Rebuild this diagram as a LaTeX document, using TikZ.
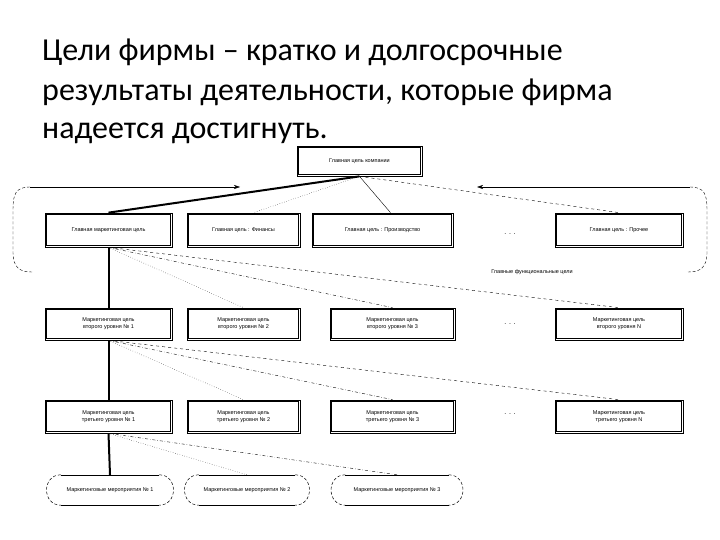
\documentclass[tikz,border=0pt]{standalone}
\usepackage{fontspec}
\setmainfont{Carlito}
\newfontfamily\boxfont{Liberation Sans}
\usetikzlibrary{arrows.meta}
\begin{document}
\begin{tikzpicture}[x=1pt,y=-1pt,
  goal/.style={draw, line width=0.7pt, rectangle, inner sep=1pt,
    font=\boxfont\fontsize{5.5}{6.8}\selectfont, align=center},
  act/.style={rectangle, inner sep=1pt,
    minimum height=30pt, font=\boxfont\fontsize{5.5}{6.8}\selectfont, align=center},
  inner/.style={line width=0.5pt},
  dotsn/.style={font=\boxfont\fontsize{7}{8}\selectfont},
  thickl/.style={line width=2pt},
  ttl/.style={anchor=base west, inner sep=0pt, font=\fontsize{32}{40}\selectfont},
  lbl/.style={font=\boxfont\fontsize{5.5}{6.8}\selectfont}]
\useasboundingbox (0,0) rectangle (720,540);

% title
\node[ttl] (t1) at (42,61) {Цели фирмы – кратко и долгосрочные};
\node[ttl] (t2) at (42,101) {результаты деятельности, которые фирма};
\node[ttl] (t3) at (42,139) {надеется достигнуть.};

% top goal
\node[goal, minimum width=125pt, minimum height=30pt] (top) at (359.5,161) {Главная цель компании};

% level 1
\node[goal, minimum width=127pt, minimum height=34pt] (b11) at (108.5,230) {Главная маркетинговая цель};
\node[goal, minimum width=113pt, minimum height=34pt] (b12) at (243.5,230) {Главная цель : Финансы};
\node[goal, minimum width=141pt, minimum height=34pt] (b13) at (382.5,230) {Главная цель : Производство};
\node[dotsn] (d1) at (510,234) {. . .};
\node[goal, minimum width=128pt, minimum height=34pt] (b15) at (619,230) {Главная цель : Прочее};

% level 2
\node[goal, minimum width=127pt, minimum height=32pt] (b21) at (108.5,324) {Маркетинговая цель\\второго уровня № 1};
\node[goal, minimum width=113pt, minimum height=32pt] (b22) at (243.5,324) {Маркетинговая цель\\второго уровня № 2};
\node[goal, minimum width=125pt, minimum height=32pt] (b23) at (392.5,324) {Маркетинговая цель\\второго уровня № 3};
\node[dotsn] (d2) at (510,324) {. . .};
\node[goal, minimum width=128pt, minimum height=32pt] (b25) at (619,324) {Маркетинговая цель\\второго уровня N};

% level 3
\node[goal, minimum width=127pt, minimum height=33pt] (b31) at (108.5,416.5) {Маркетинговая цель\\третьего уровня № 1};
\node[goal, minimum width=113pt, minimum height=33pt] (b32) at (243.5,416.5) {Маркетинговая цель\\третьего уровня № 2};
\node[goal, minimum width=125pt, minimum height=33pt] (b33) at (392.5,416.5) {Маркетинговая цель\\третьего уровня № 3};
\node[dotsn] (d3) at (510,414) {. . .};
\node[goal, minimum width=128pt, minimum height=33pt] (b35) at (619,416.5) {Маркетинговая цель\\третьего уровня N};

% inner lines of the double borders
\foreach \n in {top,b11,b12,b13,b15,b21,b22,b23,b25,b31,b32,b33,b35}
  \draw[inner] ([shift={(1.8pt,1.8pt)}]\n.south west) rectangle ([shift={(-1.8pt,-1.8pt)}]\n.north east);

% activities
\node[act, minimum width=130pt] (e1) at (110,490) {Маркетинговые мероприятия № 1};
\node[act, minimum width=128pt] (e2) at (247,490) {Маркетинговые мероприятия № 2};
\node[act, minimum width=135pt] (e3) at (397,490) {Маркетинговые мероприятия № 3};
\foreach \n in {e1,e2,e3}{
  \draw[line width=0.6pt] ([xshift=16pt]\n.north west) -- ([xshift=-16pt]\n.north east);
  \draw[line width=0.6pt] ([xshift=16pt]\n.south west) -- ([xshift=-16pt]\n.south east);
  \draw[densely dashed, line width=0.5pt] ([xshift=16pt]\n.north west) .. controls ([xshift=-3pt]\n.north west) and ([xshift=-3pt]\n.south west) .. ([xshift=16pt]\n.south west);
  \draw[densely dashed, line width=0.5pt] ([xshift=-16pt]\n.north east) .. controls ([xshift=3pt]\n.north east) and ([xshift=3pt]\n.south east) .. ([xshift=-16pt]\n.south east);
}

% connectors from top
\draw[thickl] (top.south) -- (b11.north);
\draw[dotted] (top.south) -- ([xshift=10pt]b12.north);
\draw (top.south) -- ([xshift=8pt]b13.north);
\draw[dashed] (top.south) -- (b15.north);

% vertical spine
\draw[thickl] (b11.south) -- (b21.north);
\draw[thickl] (b21.south) -- (b31.north);
\draw[thickl] (b31.south) -- (e1.north);

% fans
\draw[dotted] (b11.south) -- (b22.north);
\draw[dash dot] (b11.south) -- (b23.north);
\draw[dashed] (b11.south) -- (b25.north);
\draw[dotted] (b21.south) -- (b32.north);
\draw[dash dot] (b21.south) -- (b33.north);
\draw[dashed] (b21.south) -- (b35.north);
\draw[dotted] (b31.south) -- (e2.north);
\draw[dash dot] (b31.south) -- (e3.north);

% bracket
\coordinate (la) at (240,187);
\coordinate (ra) at (477,187);
\coordinate (lt) at (30,187);
\coordinate (rt) at (690,187);
\draw[-{Stealth[length=6pt,width=4pt]}] (lt) -- (la);
\draw[-{Stealth[length=6pt,width=4pt]}] (rt) -- (ra);
\draw[densely dashed] (lt) .. controls (15,187) and (13,195) .. (13,210) -- (13,252) .. controls (13,268) and (20,272) .. (32,272);
\draw[densely dashed] (rt) .. controls (705,187) and (707,195) .. (707,210) -- (707,252) .. controls (707,268) and (700,272) .. (688,272);
\node[lbl] (flbl) at (532,272) {Главные функциональные цели};
\end{tikzpicture}
\end{document}
